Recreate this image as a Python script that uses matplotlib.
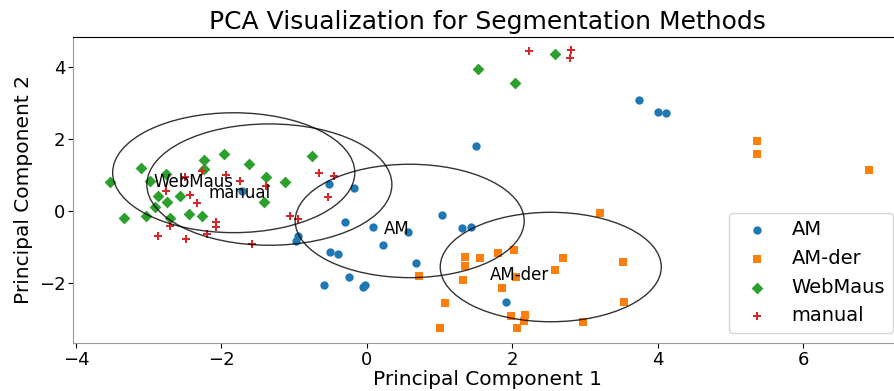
import matplotlib
matplotlib.use("Agg")
import matplotlib.pyplot as plt
from matplotlib.patches import Ellipse

# PCA-Koordinaten je Methode
am_x = [-0.52, -0.17, -0.30, -0.95, -0.98, -0.50, -0.39, -0.24, -0.59, -0.05, -0.02,
        -1.72, 1.50, 0.09, 0.22, 0.57, 1.04, 1.31, 1.43, 0.68, 1.91, 3.74, 4.01, 4.11]
am_y = [0.74, 0.63, -0.32, -0.69, -0.83, -1.14, -1.19, -1.84, -2.07, -2.12, -2.06,
        0.54, 1.81, -0.44, -0.95, -0.59, -0.12, -0.48, -0.44, -1.45, -2.52, 3.08, 2.75, 2.71]

amder_x = [0.72, 1.35, 1.35, 1.56, 1.81, 2.03, 1.32, 1.86, 2.05, 2.70, 2.59, 1.07,
           1.01, 1.98, 2.17, 2.16, 2.07, 3.21, 3.53, 3.54, 2.98, 5.36, 5.36, 6.91]
amder_y = [-1.81, -1.29, -1.53, -1.31, -1.18, -1.08, -1.92, -2.15, -1.85, -1.31, -1.63, -2.56,
           -3.24, -2.92, -2.90, -3.07, -3.26, -0.06, -1.43, -2.52, -3.10, 1.94, 1.57, 1.13]

webmaus_x = [-3.53, -3.11, -2.98, -2.76, -2.24, -2.24, -1.96, -1.62, -1.38, -1.13, -0.76, -2.87,
             -2.75, -2.57, -2.91, -3.34, -3.03, -2.71, -2.44, -2.26, -1.42, 1.53, 2.04, 2.59]
webmaus_y = [0.81, 1.19, 0.84, 1.03, 1.42, 1.16, 1.57, 1.31, 0.95, 0.81, 1.52, 0.40,
             0.24, 0.40, 0.12, -0.20, -0.13, -0.19, -0.08, -0.14, 0.26, 3.94, 3.55, 4.36]

manual_x = [-2.27, -2.50, -1.93, -1.74, -1.38, -2.76, -2.43, -2.33, -2.71, -2.87, -2.49, -2.20,
            -2.08, -2.08, -1.58, -1.05, -0.95, -0.66, -0.45, -0.53, 2.23, 2.81, 2.80]
manual_y = [1.11, 0.94, 1.00, 0.84, 0.69, 0.56, 0.43, 0.21, -0.41, -0.71, -0.78, -0.65,
            -0.32, -0.46, -0.92, -0.14, -0.22, 1.06, 0.98, 0.38, 4.44, 4.47, 4.26]

methods = ['AM', 'AM-der', 'WebMaus', 'manual']
colors = ['#1f77b4', '#ff7f0e', '#2ca02c', '#d62728']
markers = ['o', 's', 'D', 'P']

# Kreise (Mittelpunkt, Durchmesser) und Beschriftungsposition
circle_cx = [0.59, 2.53, -1.83, -1.34]
circle_cy = [-0.28, -1.56, 1.06, 0.73]
circle_d = [3.15, 3.04, 3.33, 3.37]
label_x = [0.23, 1.69, -2.93, -2.18]
label_y = [-0.51, -1.79, 0.81, 0.51]

xs = [am_x, amder_x, webmaus_x, manual_x]
ys = [am_y, amder_y, webmaus_y, manual_y]

fig = plt.figure(figsize=(8.95, 3.91), dpi=100)
ax = fig.add_axes([0.0816, 0.1228, 0.927, 0.7826])

for i, m in enumerate(methods):
    ax.scatter(xs[i], ys[i], c=colors[i], marker=markers[i], s=36,
               linewidths=0, label=m, zorder=3)

for i, m in enumerate(methods):
    e = Ellipse((circle_cx[i], circle_cy[i]), circle_d[i], circle_d[i],
                fill=False, edgecolor='black', linewidth=1, alpha=0.8, zorder=4)
    ax.add_patch(e)
    ax.text(label_x[i], label_y[i], m, fontsize=12, ha='left', va='center', zorder=5)

ax.set_xlim(-4.04, 7.37)
ax.set_ylim(-3.67, 4.83)
ax.set_xticks([-4, -2, 0, 2, 4, 6])
ax.set_yticks([-2, 0, 2, 4])
ax.tick_params(labelsize=13, pad=2)
ax.set_title('PCA Visualization for Segmentation Methods', fontsize=18)
ax.set_xlabel('Principal Component 1', fontsize=14.5, labelpad=1)
ax.set_ylabel('Principal Component 2', fontsize=14.5)
for s in ['left', 'bottom']:
    ax.spines[s].set_color('#999999')

ax.legend(loc='lower right', fontsize=14)

fig.savefig('out.png', dpi=100)
